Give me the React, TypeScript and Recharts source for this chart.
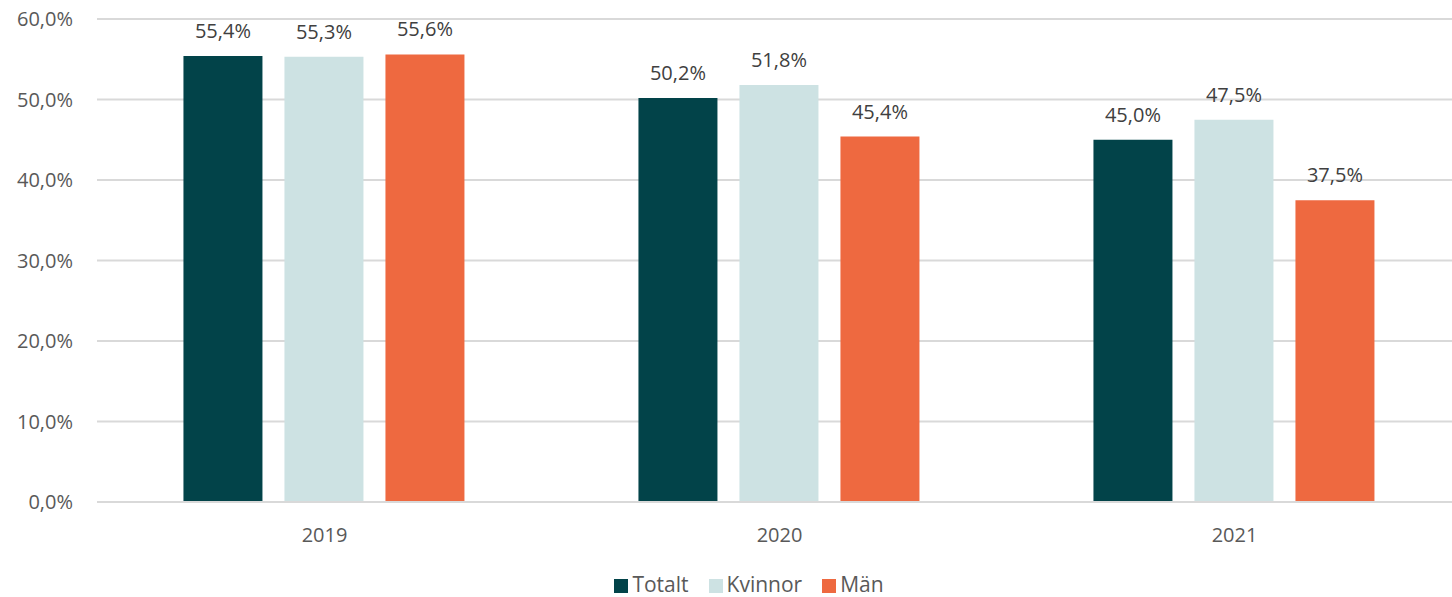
import React from "react";
import { BarChart, Bar, XAxis, YAxis, CartesianGrid, Legend, LabelList } from "recharts";

const years = ["2019", "2020", "2021"];
const totalt = [55.4, 50.2, 45.0];
const kvinnor = [55.3, 51.8, 47.5];
const man = [55.6, 45.4, 37.5];
const yTicks = [0, 10, 20, 30, 40, 50, 60];
const seriesOrder = ["Totalt", "Kvinnor", "Män"];

const data = years.map((y, i) => ({ year: y, Totalt: totalt[i], Kvinnor: kvinnor[i], "Män": man[i] }));

const fmt = (v: number) => v.toFixed(1).replace(".", ",") + "%";
const FONT = "'Open Sans', 'Noto Sans', sans-serif";
const FS = 20;

export default function App() {
  return (
    <div style={{ position: "absolute", left: 0, top: 0, width: 1452, height: 597, overflow: "hidden", background: "#fff", fontFamily: FONT }}>
      <BarChart
        width={1462}
        height={597}
        data={data}
        margin={{ top: 19, right: 0, bottom: 0, left: 0 }}
        barCategoryGap="19%"
        barGap={22}
      >
        <CartesianGrid vertical={false} stroke="#d9d9d9" strokeWidth={2} />
        <YAxis
          domain={[0, 60]}
          ticks={yTicks}
          tickFormatter={fmt}
          axisLine={false}
          tickLine={false}
          width={97}
          tickMargin={18}
          tick={{ fill: "#595959", fontSize: FS, fontFamily: FONT }}
        />
        <XAxis
          dataKey="year"
          axisLine={{ stroke: "#d9d9d9", strokeWidth: 2 }}
          tickLine={false}
          height={69}
          tickMargin={20}
          tick={{ fill: "#595959", fontSize: FS, fontFamily: FONT }}
        />
        <Legend
          verticalAlign="bottom"
          align="center"
          iconType="square"
          iconSize={14}
          itemSorter={(item: any) => seriesOrder.indexOf(item.value)}
          wrapperStyle={{ height: 26, lineHeight: "26px", bottom: 0, left: 33, width: 1452, fontSize: 21, fontFamily: FONT }}
          formatter={(v: string) => <span style={{ color: "#595959", marginRight: 10 }}>{v}</span>}
        />
        <Bar dataKey="Totalt" fill="#024349" isAnimationActive={false}>
          <LabelList dataKey="Totalt" position="top" offset={18} formatter={fmt} fill="#404040" fontSize={FS} fontFamily={FONT} />
        </Bar>
        <Bar dataKey="Kvinnor" fill="#cde2e3" isAnimationActive={false}>
          <LabelList dataKey="Kvinnor" position="top" offset={18} formatter={fmt} fill="#404040" fontSize={FS} fontFamily={FONT} />
        </Bar>
        <Bar dataKey="Män" fill="#ee6940" isAnimationActive={false}>
          <LabelList dataKey="Män" position="top" offset={18} formatter={fmt} fill="#404040" fontSize={FS} fontFamily={FONT} />
        </Bar>
      </BarChart>
    </div>
  );
}
